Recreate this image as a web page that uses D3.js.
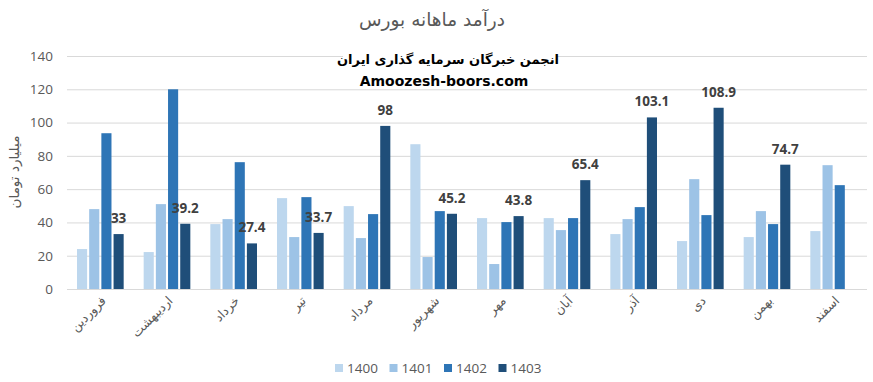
<!DOCTYPE html>
<html><head><meta charset="utf-8">
<script src="https://cdn.jsdelivr.net/npm/d3@7"></script>
<style>body{margin:0;background:#fff}svg{display:block}</style>
</head><body><svg id="c" width="873" height="382"></svg>
<script>
const categories = ["فروردین","اردیبهشت","خرداد","تیر","مرداد","شهریور","مهر","آبان","آذر","دی","بهمن","اسفند"];
const seriesNames = ["1400","1401","1402","1403"];
const v1400 = [24, 22.2, 39, 54.6, 49.8, 87, 42.6, 42.6, 33, 28.8, 31.2, 34.8];
const v1401 = [48, 51, 42, 31.2, 30.6, 19.2, 15, 35.4, 42, 66, 46.8, 74.4];
const v1402 = [93.6, 120, 76.2, 55.2, 45, 46.8, 40.2, 42.6, 49.2, 44.4, 39, 62.4];
const v1403 = [33, 39.2, 27.4, 33.7, 98, 45.2, 43.8, 65.4, 103.1, 108.9, 74.7, null];
const yTicks = [0,20,40,60,80,100,120,140];
const colors = ["#BDD7EE","#9DC3E6","#2E75B6","#1F4E79"];
const title = "درآمد ماهانه بورس";
const yLabel = "میلیارد تومان";
const wm1 = "انجمن خبرگان سرمایه گذاری ایران";
const wm2 = "Amoozesh-boors.com";

const all = [v1400, v1401, v1402, v1403];
const svg = d3.select("#c");
const L = 67, R = 867, T = 56, B = 289;
const numFont = "'Open Sans', 'Liberation Sans', sans-serif";
const faFont = "'DejaVu Sans', sans-serif";

const x = d3.scaleBand().domain(categories).range([L, R]).paddingInner(0.3).paddingOuter(0.15);
const xs = d3.scaleBand().domain(seriesNames).range([0, x.bandwidth()]).paddingInner(0.17);
const y = d3.scaleLinear().domain([0, 140]).range([B, T]);

// gridlines
svg.append("g").selectAll("line").data(yTicks).join("line")
  .attr("x1", L).attr("x2", R).attr("y1", d => y(d)+0.5).attr("y2", d => y(d)+0.5)
  .attr("stroke", "#D9D9D9").attr("stroke-width", 1);

// y axis labels
const yAxis = d3.axisLeft(y).tickValues(yTicks).tickSize(0).tickPadding(14);
const ga = svg.append("g").attr("transform", `translate(${L},0)`).call(yAxis);
ga.select(".domain").remove();
ga.selectAll("text").attr("font-family", numFont).attr("font-size", 13.5).attr("fill", "#595959");

// bars
const groups = svg.append("g").selectAll("g").data(seriesNames).join("g").attr("fill", (d,i) => colors[i]);
groups.each(function(s, si) {
  d3.select(this).selectAll("rect").data(categories.map((c, ci) => ({c, v: all[si][ci]})).filter(d => d.v != null))
    .join("rect")
    .attr("x", d => x(d.c) + xs(s))
    .attr("width", xs.bandwidth())
    .attr("y", d => y(d.v))
    .attr("height", d => y(0) - y(d.v));
});

// data labels for 1403
svg.append("g").selectAll("text").data(categories.map((c, ci) => ({c, v: v1403[ci]})).filter(d => d.v != null))
  .join("text")
  .attr("x", d => x(d.c) + xs("1403") + xs.bandwidth()/2)
  .attr("y", d => y(d.v) - 11)
  .attr("text-anchor", "middle")
  .attr("font-family", numFont).attr("font-weight", "bold").attr("font-size", 13.5)
  .attr("fill", "#404040")
  .text(d => d.v);

// x axis labels
svg.append("g").selectAll("text").data(categories).join("text")
  .attr("transform", d => `translate(${x(d) + x.bandwidth()/2 + 4},${B + 10}) rotate(-45)`)
  .attr("text-anchor", "end")
  .attr("dominant-baseline", "middle")
  .attr("font-family", faFont).attr("font-size", 12.5).attr("fill", "#595959")
  .text(d => d);

// title
svg.append("text").attr("x", 432).attr("y", 26).attr("text-anchor", "middle")
  .attr("font-family", faFont).attr("font-size", 18.5).attr("fill", "#595959").text(title);

// y label
svg.append("text").attr("transform", "translate(19,172) rotate(-90)").attr("text-anchor", "middle")
  .attr("font-family", faFont).attr("font-size", 13.5).attr("fill", "#595959").text(yLabel);

// watermark box
svg.append("rect").attr("x", 343).attr("y", 48).attr("width", 214).attr("height", 36).attr("fill", "#fff");
svg.append("text").attr("x", 448).attr("y", 64).attr("text-anchor", "middle")
  .attr("font-family", faFont).attr("font-weight", "bold").attr("font-size", 13).attr("fill", "#000").text(wm1);
svg.append("text").attr("x", 444).attr("y", 86).attr("text-anchor", "middle")
  .attr("font-family", "'DejaVu Sans', sans-serif").attr("font-weight", "bold").attr("font-size", 14).attr("fill", "#000").text(wm2);

// legend
const lg = svg.append("g").selectAll("g").data(seriesNames).join("g")
  .attr("transform", (d,i) => `translate(${335 + i*54.5},364)`);
lg.append("rect").attr("width", 8).attr("height", 8).attr("fill", (d,i) => colors[i]);
lg.append("text").attr("x", 12).attr("y", 8.5).attr("font-family", numFont).attr("font-size", 13.5)
  .attr("fill", "#595959").text(d => d);
</script></body></html>
